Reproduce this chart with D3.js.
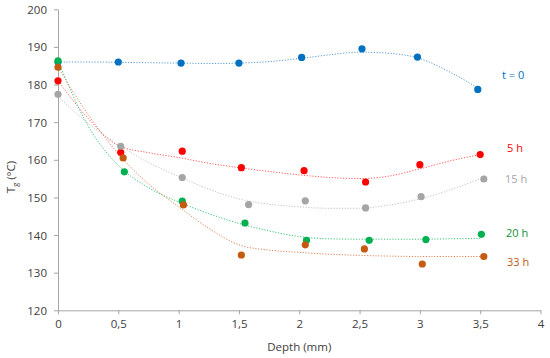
<!DOCTYPE html>
<html>
<head>
<meta charset="utf-8">
<script src="https://cdn.jsdelivr.net/npm/d3@7"></script>
<style>
  body { margin: 0; background: #fff; }
  .axis text { font-family: "Open Sans", sans-serif; font-size: 11.5px; fill: #404040; }
  .axis path, .axis line { stroke: #a6a6a6; }
</style>
</head>
<body>
<script>
// measured points: depth (mm) and Tg (°C)
var series = ["t = 0", "5 h", "15 h", "20 h", "33 h"];

var depthT0  = [0, 0.5, 1.02, 1.5, 2.02, 2.52, 2.98, 3.48];
var tgT0     = [186.0, 186.0, 185.7, 185.7, 187.2, 189.5, 187.3, 178.7];
var depth5h  = [0, 0.52, 1.03, 1.52, 2.04, 2.55, 3.0, 3.5];
var tg5h     = [181.0, 162.0, 162.3, 157.9, 157.1, 154.1, 158.7, 161.4];
var depth15h = [0, 0.52, 1.03, 1.58, 2.05, 2.55, 3.01, 3.53];
var tg15h    = [177.4, 163.6, 155.3, 148.1, 149.1, 147.2, 150.2, 154.9];
var depth20h = [0, 0.55, 1.03, 1.55, 2.06, 2.58, 3.05, 3.51];
var tg20h    = [186.3, 156.8, 149.0, 143.2, 138.6, 138.6, 138.8, 140.2];
var depth33h = [0, 0.54, 1.04, 1.52, 2.05, 2.54, 3.02, 3.53];
var tg33h    = [184.6, 160.5, 148.0, 134.7, 137.4, 136.3, 132.3, 134.3];

// dotted trend lines
var trendDepth   = [0, 0.25, 0.5, 0.75, 1, 1.25, 1.5, 1.75, 2, 2.25, 2.5, 2.75, 3, 3.25, 3.5];
var trendT0  = [186.0, 186.0, 185.9, 185.8, 185.7, 185.6, 185.7, 186.1, 186.9, 187.9, 188.6, 188.3, 186.9, 183.3, 178.7];
var trend5h  = [181.0, 171.0, 163.8, 161.9, 160.6, 159.1, 157.9, 156.9, 156.0, 155.3, 155.0, 155.7, 157.6, 159.7, 161.4];
var trend15h = [176.8, 169.7, 164.0, 159.3, 155.6, 152.2, 149.6, 148.2, 147.5, 147.1, 147.1, 148.0, 149.6, 152.0, 155.0];
var trend20h = [186.3, 169.0, 158.5, 152.6, 148.8, 145.7, 143.1, 141.1, 139.6, 139.0, 138.9, 138.9, 138.9, 139.0, 139.1];
var trend33h = [184.6, 172.0, 161.6, 153.6, 147.5, 141.8, 137.4, 136.0, 135.4, 134.9, 134.6, 134.4, 134.3, 134.3, 134.3];

var xTicks = [0, 0.5, 1, 1.5, 2, 2.5, 3, 3.5, 4];
var yTicks = [120, 130, 140, 150, 160, 170, 180, 190, 200];

var markerColors = ["#0070c0", "#ff0000", "#a5a5a5", "#00b050", "#c55a11"];
var lineColors   = ["#5b9bd5", "#ff5a5a", "#c4c4c4", "#3cc47a", "#e0845a"];
var labelColors  = ["#0070c0", "#ff0000", "#a5a5a5", "#13903a", "#c55a11"];

var depths = [depthT0, depth5h, depth15h, depth20h, depth33h];
var tgs    = [tgT0, tg5h, tg15h, tg20h, tg33h];
var trends = [trendT0, trend5h, trend15h, trend20h, trend33h];
var labelX = [502, 507, 505, 506, 507];
var labelY = [75.5, 148, 179.5, 233, 262];

var margin = {top: 9.3, right: 9.5, bottom: 47.7, left: 58},
    width = 550 - margin.left - margin.right,
    height = 358 - margin.top - margin.bottom;

var svg = d3.select("body").append("svg")
    .attr("width", 550)
    .attr("height", 358);

var g = svg.append("g")
    .attr("transform", "translate(" + margin.left + "," + margin.top + ")");

var x = d3.scaleLinear().domain([0, 4]).range([0, width]);
var y = d3.scaleLinear().domain([120, 200]).range([height, 0]);

g.append("g")
    .attr("class", "axis")
    .attr("transform", "translate(0," + height + ")")
    .call(d3.axisBottom(x).tickValues(xTicks).tickSize(4).tickSizeOuter(0)
      .tickFormat(function(d) { return String(d).replace(".", ","); }))
    .selectAll("text").attr("y", 10).attr("dy", "0.71em");

g.append("g")
    .attr("class", "axis")
    .call(d3.axisLeft(y).tickValues(yTicks).tickSize(4).tickSizeOuter(0))
    .selectAll("text").attr("x", -11).attr("dy", "0.35em");

var line = d3.line()
    .x(function(d) { return x(d[0]); })
    .y(function(d) { return y(d[1]); })
    .curve(d3.curveMonotoneX);

series.forEach(function(name, i) {
  var pts = trendDepth.map(function(d, j) { return [d, trends[i][j]]; });
  g.append("path")
    .datum(pts)
    .attr("fill", "none")
    .attr("stroke", lineColors[i])
    .attr("stroke-width", 1)
    .attr("stroke-dasharray", "1.2,1.6")
    .attr("d", line);
});

series.forEach(function(name, i) {
  g.selectAll(".dot" + i)
    .data(depths[i].map(function(d, j) { return [d, tgs[i][j]]; }))
    .enter().append("circle")
    .attr("cx", function(d) { return x(d[0]); })
    .attr("cy", function(d) { return y(d[1]); })
    .attr("r", 3.6)
    .attr("fill", markerColors[i]);
});

series.forEach(function(name, i) {
  svg.append("text")
    .attr("x", labelX[i])
    .attr("y", labelY[i])
    .attr("dy", "0.35em")
    .attr("font-family", "Open Sans, sans-serif")
    .attr("font-size", "11px")
    .attr("fill", labelColors[i])
    .text(name);
});

svg.append("text")
    .attr("x", margin.left + width / 2)
    .attr("y", 351)
    .attr("text-anchor", "middle")
    .attr("font-family", "Open Sans, sans-serif")
    .attr("font-size", "11.5px")
    .attr("fill", "#404040")
    .text("Depth (mm)");

var yt = svg.append("text")
    .attr("transform", "translate(15,177) rotate(-90)")
    .attr("text-anchor", "middle")
    .attr("font-family", "Open Sans, sans-serif")
    .attr("font-size", "11.5px")
    .attr("fill", "#404040");
yt.append("tspan").text("T");
yt.append("tspan").attr("font-size", "7.5px").attr("dy", "3").text("g");
yt.append("tspan").attr("dy", "-3").text(" (°C)");
</script>
</body>
</html>
